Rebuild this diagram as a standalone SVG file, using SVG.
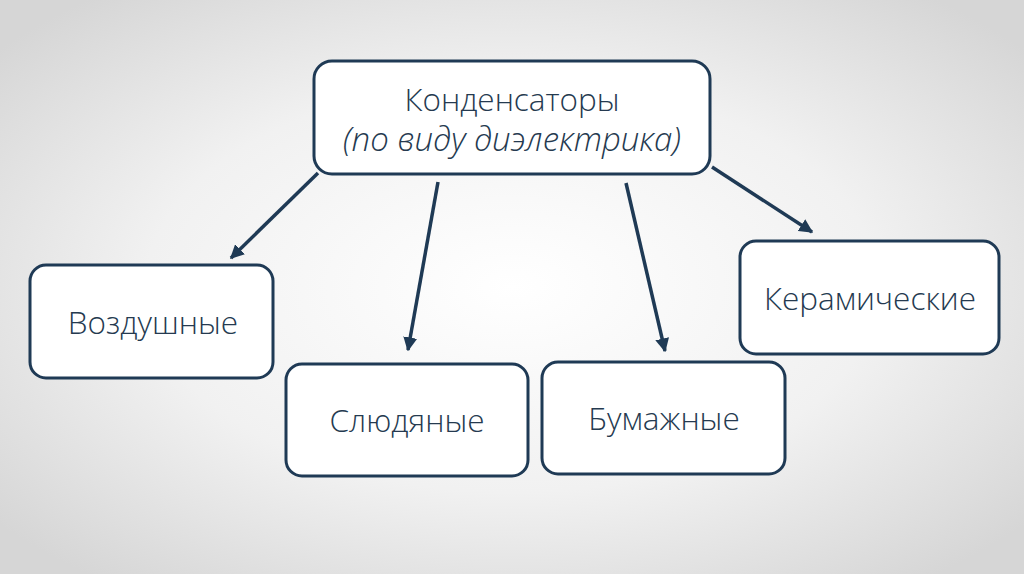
<svg xmlns="http://www.w3.org/2000/svg" width="1024" height="574" viewBox="0 0 1024 574">
<defs>
<radialGradient id="bg" cx="50%" cy="50%" r="65%">
<stop offset="0" stop-color="#ffffff"/>
<stop offset="0.55" stop-color="#f1f1f1"/>
<stop offset="1" stop-color="#d6d6d6"/>
</radialGradient>
<marker id="ah" viewBox="0 0 10 10" refX="9" refY="5" markerWidth="4" markerHeight="4" orient="auto" markerUnits="strokeWidth">
<path d="M0,0 L10,5 L0,10 z" fill="#1f3a55"/>
</marker>
<style>
.box{fill:#ffffff;stroke:#1f3a55;stroke-width:3}
.lbl{font-family:"Open Sans","Liberation Sans",sans-serif;font-weight:300;font-size:31.5px;fill:#253a50;text-anchor:middle}
.it{font-style:italic;font-size:33px}
.con{stroke:#1f3a55;stroke-width:3.5;fill:none;marker-end:url(#ah)}
</style>
</defs>
<rect width="1024" height="574" fill="url(#bg)"/>
<g id="connectors">
<line class="con" x1="318" y1="173" x2="231" y2="258"/>
<line class="con" x1="438" y1="182" x2="408" y2="350"/>
<line class="con" x1="626" y1="183" x2="665" y2="351"/>
<line class="con" x1="712" y1="167" x2="812" y2="232"/>
</g>
<g id="n-root">
<rect class="box" x="314" y="61" width="396" height="113" rx="18"/>
<text class="lbl" x="512" y="111">Конденсаторы</text>
<text class="lbl it" x="512" y="151">(по виду диэлектрика)</text>
</g>
<g id="n-air">
<rect class="box" x="30" y="265" width="243" height="113" rx="16"/>
<text class="lbl" x="153" y="334">Воздушные</text>
</g>
<g id="n-mica">
<rect class="box" x="286" y="364" width="242" height="112" rx="16"/>
<text class="lbl" x="407" y="432">Слюдяные</text>
</g>
<g id="n-paper">
<rect class="box" x="542" y="362" width="243" height="112" rx="16"/>
<text class="lbl" x="664" y="430">Бумажные</text>
</g>
<g id="n-ceramic">
<rect class="box" x="740" y="241" width="259" height="113" rx="16"/>
<text class="lbl" x="870" y="310">Керамические</text>
</g>
</svg>
